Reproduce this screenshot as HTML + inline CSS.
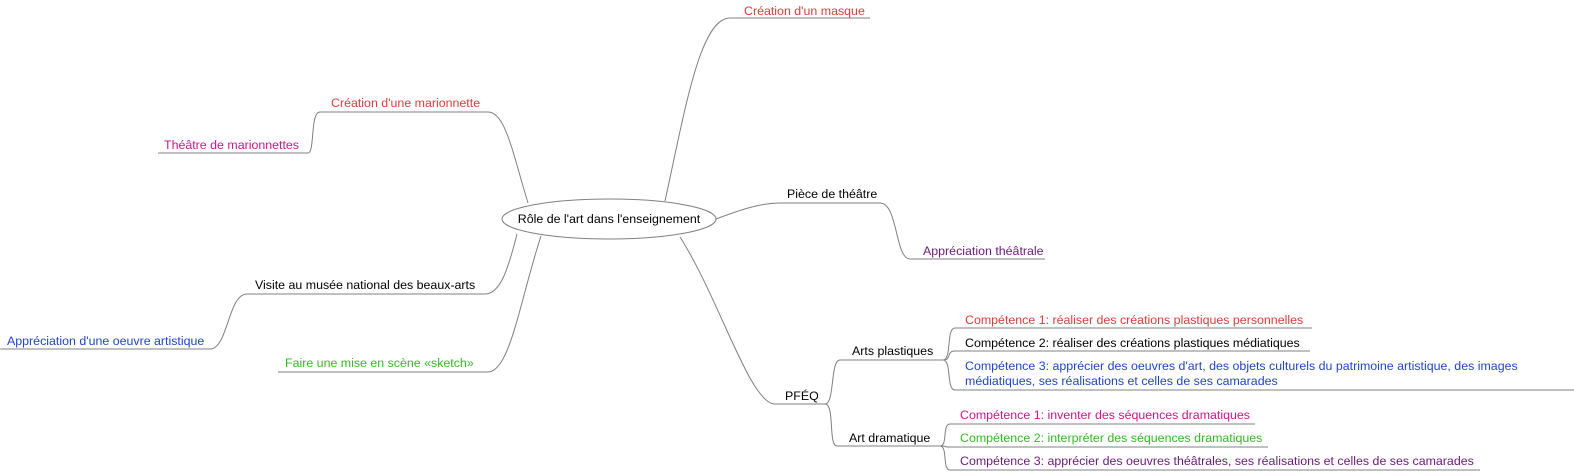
<!DOCTYPE html>
<html><head><meta charset="utf-8"><style>
html,body{margin:0;padding:0;background:#fff;}
svg{display:block;}
text{font-family:"Liberation Sans",Arial,sans-serif;font-size:12.4px;}
</style></head><body>
<svg width="1574" height="472" viewBox="0 0 1574 472" xmlns="http://www.w3.org/2000/svg">
<g fill="none" stroke="#808080" stroke-width="1">
<path d="M730 18H870"/>
<path d="M320 112H488"/>
<path d="M158 153H308"/>
<path d="M780 203H880"/>
<path d="M910 259H1045"/>
<path d="M247 294H485"/>
<path d="M0 349H210"/>
<path d="M278 372H488"/>
<path d="M775 404H825"/>
<path d="M840 360H943"/>
<path d="M837 446H940"/>
<path d="M955 328H1312"/>
<path d="M955 351H1310"/>
<path d="M955 390H1574"/>
<path d="M950 424H1255"/>
<path d="M950 447H1268"/>
<path d="M950 470H1480"/>
<path d="M665 201C685 110 700 18 730 18"/>
<path d="M528 203C512 150 505 112 488 112"/>
<path d="M716 219C740 210 760 203 780 203"/>
<path d="M517 234C508 270 500 294 485 294"/>
<path d="M541 236C520 300 510 372 488 372"/>
<path d="M680 237C720 300 750 404 775 404"/>
<path d="M320 112C310 112 315 153 308 153"/>
<path d="M880 203C898 203 895 259 910 259"/>
<path d="M247 294C228 294 228 349 210 349"/>
<path d="M825 404C835 404 830 360 840 360"/>
<path d="M825 404C835 404 828 446 837 446"/>
<path d="M943 360C952 360 946 328 955 328"/>
<path d="M943 360C952 360 946 351 955 351"/>
<path d="M943 360C952 360 946 390 955 390"/>
<path d="M940 446C948 446 942 424 950 424"/>
<path d="M940 446C948 446 942 447 950 447"/>
<path d="M940 446C948 446 942 470 950 470"/>
</g>
<ellipse cx="609" cy="219" rx="107" ry="20" fill="#fff" stroke="#808080"/>
<text x="609" y="223" text-anchor="middle" fill="#000">Rôle de l'art dans l'enseignement</text>
<text x="744" y="15" fill="#e03a3a">Création d'un masque</text>
<text x="331" y="107" fill="#e03a3a">Création d'une marionnette</text>
<text x="164" y="149" fill="#d0148c">Théâtre de marionnettes</text>
<text x="787" y="198" fill="#000">Pièce de théâtre</text>
<text x="923" y="255" fill="#6a1a7a">Appréciation théâtrale</text>
<text x="255" y="289" fill="#000">Visite au musée national des beaux-arts</text>
<text x="7" y="345" fill="#2244cc">Appréciation d'une oeuvre artistique</text>
<text x="285" y="367" fill="#33bb22">Faire une mise en scène «sketch»</text>
<text x="785" y="400" fill="#000">PFÉQ</text>
<text x="852" y="355" fill="#000">Arts plastiques</text>
<text x="849" y="442" fill="#000">Art dramatique</text>
<text x="965" y="324" fill="#e03a3a">Compétence 1: réaliser des créations plastiques personnelles</text>
<text x="965" y="347" fill="#000">Compétence 2: réaliser des créations plastiques médiatiques</text>
<text x="965" y="370" fill="#2244cc">Compétence 3: apprécier des oeuvres d'art, des objets culturels du patrimoine artistique, des images</text>
<text x="965" y="385" fill="#2244cc">médiatiques, ses réalisations et celles de ses camarades</text>
<text x="960" y="419" fill="#d0148c">Compétence 1: inventer des séquences dramatiques</text>
<text x="960" y="442" fill="#33bb22">Compétence 2: interpréter des séquences dramatiques</text>
<text x="960" y="465" fill="#6a1a7a">Compétence 3: apprécier des oeuvres théâtrales, ses réalisations et celles de ses camarades</text>
</svg>
</body></html>
